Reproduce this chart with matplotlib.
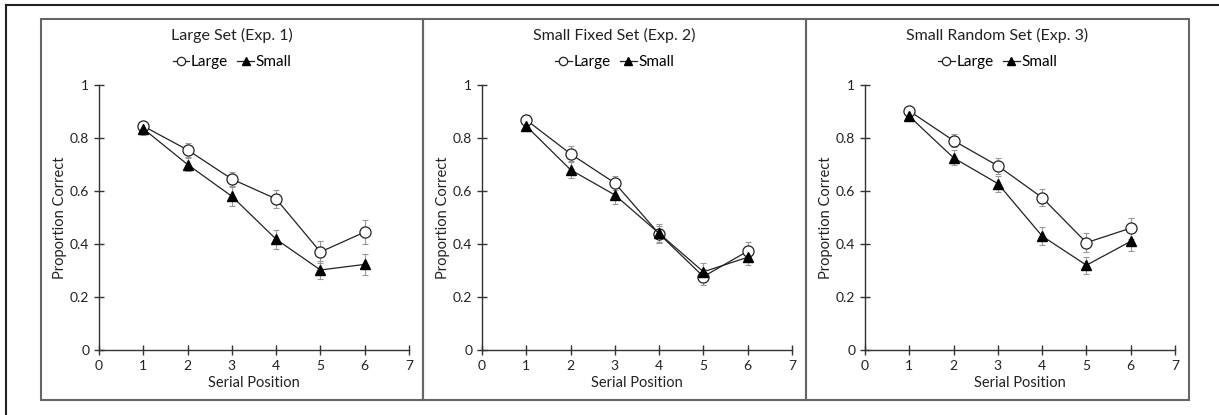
import matplotlib
matplotlib.use('Agg')
import numpy as np
import matplotlib.pyplot as plt
from matplotlib.patches import Rectangle
from matplotlib.lines import Line2D

plt.rcParams['font.family'] = ['Lato', 'DejaVu Sans']

positions = [1, 2, 3, 4, 5, 6]
titles = ['Large Set (Exp. 1)', 'Small Fixed Set (Exp. 2)', 'Small Random Set (Exp. 3)']

large_means = [
    [0.845, 0.755, 0.645, 0.57, 0.37, 0.445],
    [0.868, 0.74, 0.63, 0.438, 0.277, 0.373],
    [0.902, 0.79, 0.695, 0.575, 0.405, 0.46],
]
large_err = [
    [0.02, 0.025, 0.028, 0.035, 0.04, 0.045],
    [0.02, 0.028, 0.028, 0.03, 0.03, 0.035],
    [0.015, 0.025, 0.03, 0.033, 0.035, 0.04],
]
small_means = [
    [0.835, 0.70, 0.58, 0.418, 0.302, 0.323],
    [0.845, 0.68, 0.585, 0.44, 0.295, 0.35],
    [0.882, 0.725, 0.628, 0.43, 0.32, 0.41],
]
small_err = [
    [0.025, 0.025, 0.035, 0.035, 0.035, 0.04],
    [0.02, 0.03, 0.033, 0.035, 0.035, 0.03],
    [0.015, 0.028, 0.03, 0.035, 0.032, 0.038],
]

W, H = 1219, 415
fig = plt.figure(figsize=(W / 100, H / 100), dpi=100)

# outer frame and panel boxes (pixel coords from the top-left)
fig.add_artist(Line2D([6 / W, 1], [1 - 5 / H, 1 - 5 / H], transform=fig.transFigure,
                      color='#222222', lw=1.5))
fig.add_artist(Line2D([6 / W, 6 / W], [0, 1 - 5 / H], transform=fig.transFigure,
                      color='#222222', lw=1.5))
box_edges = [41, 423, 806, 1189]
box_top, box_bot = 19, 400
for i in range(3):
    x0, x1 = box_edges[i], box_edges[i + 1]
    fig.add_artist(Rectangle((x0 / W, 1 - box_bot / H), (x1 - x0) / W, (box_bot - box_top) / H,
                             transform=fig.transFigure, fill=False,
                             edgecolor='#666666', lw=1.5))

axis_left = [99, 482, 865]
ax_w = 310
y_top, y_bot = 85, 350

for i in range(3):
    ax = fig.add_axes([axis_left[i] / W, 1 - y_bot / H, ax_w / W, (y_bot - y_top) / H])
    ax.errorbar(positions, large_means[i], yerr=large_err[i], fmt='none',
                ecolor='#999999', elinewidth=0.8, capsize=2, capthick=0.8)
    ax.errorbar(positions, small_means[i], yerr=small_err[i], fmt='none',
                ecolor='#999999', elinewidth=0.8, capsize=2, capthick=0.8)
    ax.plot(positions, large_means[i], color='#222222', lw=0.9, marker='o', ms=8,
            mfc='white', mec='#222222', mew=0.9, label='Large')
    ax.plot(positions, small_means[i], color='#222222', lw=0.9, marker='^', ms=7,
            mfc='black', mec='black', label='Small')

    ax.set_xlim(0, 7)
    ax.set_ylim(0, 1)
    ax.set_xticks(range(8))
    ax.set_yticks([0, 0.2, 0.4, 0.6, 0.8, 1])
    ax.set_yticklabels(['0', '0.2', '0.4', '0.6', '0.8', '1'])
    for s in ['top', 'right']:
        ax.spines[s].set_visible(False)
    for s in ['left', 'bottom']:
        ax.spines[s].set_color('#333333')
        ax.spines[s].set_linewidth(1.0)
    ax.tick_params(direction='inout', length=7, width=1.0, color='#333333',
                   labelsize=10, labelcolor='#222222')
    ax.set_xlabel('Serial Position', fontsize=10.5, color='#222222', labelpad=3)
    ax.set_ylabel('Proportion Correct', fontsize=10.5, color='#222222')
    ax.yaxis.set_label_coords(-32 / ax_w, 0.5)

    cx = (box_edges[i] + box_edges[i + 1]) / 2 / W
    fig.text(cx, 1 - 35 / H, titles[i], fontsize=11.5, color='#222222',
             ha='center', va='center')
    ax.legend(loc='center', bbox_to_anchor=(cx, 1 - 62 / H), bbox_transform=fig.transFigure,
              ncol=2, frameon=False, fontsize=11, handlelength=1.1, handletextpad=0.1,
              columnspacing=0.6, markerscale=0.75, borderaxespad=0, borderpad=0)

fig.savefig('out.png', dpi=100)
